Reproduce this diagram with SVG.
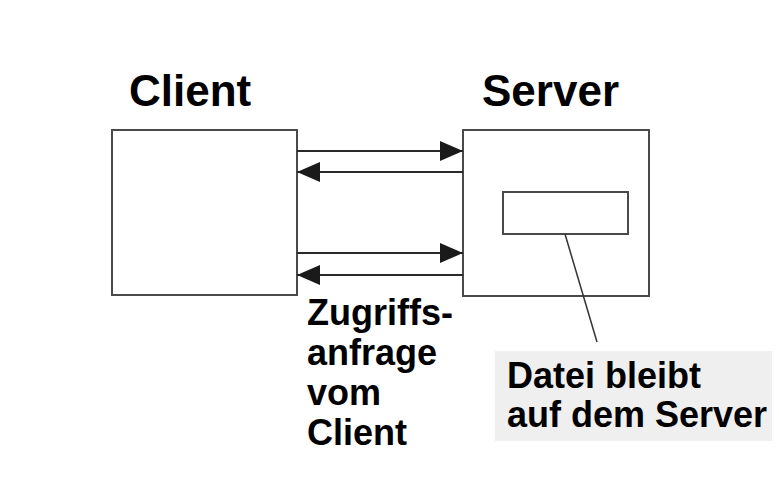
<svg xmlns="http://www.w3.org/2000/svg" width="779" height="496" viewBox="0 0 779 496">
<defs>
<style>
.box{fill:#fff;stroke:#4a4a4a;stroke-width:2}
.conn{stroke:#2a2a2a;stroke-width:2;fill:none}
.t{font-family:"Liberation Sans",Arial,sans-serif;font-weight:bold;fill:#000}
.h{font-size:44px}
.l{font-size:36px}
</style>
<marker id="ah" markerUnits="userSpaceOnUse" markerWidth="24" markerHeight="20" refX="23" refY="10" orient="auto">
<path d="M0,0 L23,10 L0,20 Z" fill="#1a1a1a"/>
</marker>
</defs>
<rect width="779" height="496" fill="#fff"/>
<g id="client">
<rect class="box" x="112" y="130" width="185" height="165"/>
<text class="t h" x="129" y="106">Client</text>
</g>
<g id="server">
<rect class="box" x="463" y="130" width="186" height="166"/>
<text class="t h" x="482" y="106">Server</text>
</g>
<g id="datei">
<rect class="box" x="503" y="192" width="125" height="42"/>
</g>
<g id="label-datei">
<rect x="495" y="351" width="277" height="90" fill="#efefef"/>
<text class="t l" x="507" y="388">Datei bleibt</text>
<text class="t l" x="507" y="427">auf dem Server</text>
</g>
<g id="label-zugriff">
<text class="t l" x="307" y="325">Zugriffs-</text>
<text class="t l" x="307" y="365">anfrage</text>
<text class="t l" x="307" y="405">vom</text>
<text class="t l" x="307" y="445">Client</text>
</g>
<g id="connectors">
<line class="conn" x1="297" y1="151" x2="463" y2="151" marker-end="url(#ah)"/>
<line class="conn" x1="463" y1="172" x2="297" y2="172" marker-end="url(#ah)"/>
<line class="conn" x1="297" y1="253" x2="463" y2="253" marker-end="url(#ah)"/>
<line class="conn" x1="463" y1="275" x2="297" y2="275" marker-end="url(#ah)"/>
<line x1="565" y1="234" x2="597" y2="342" stroke="#333" stroke-width="1.5"/>
</g>
</svg>
